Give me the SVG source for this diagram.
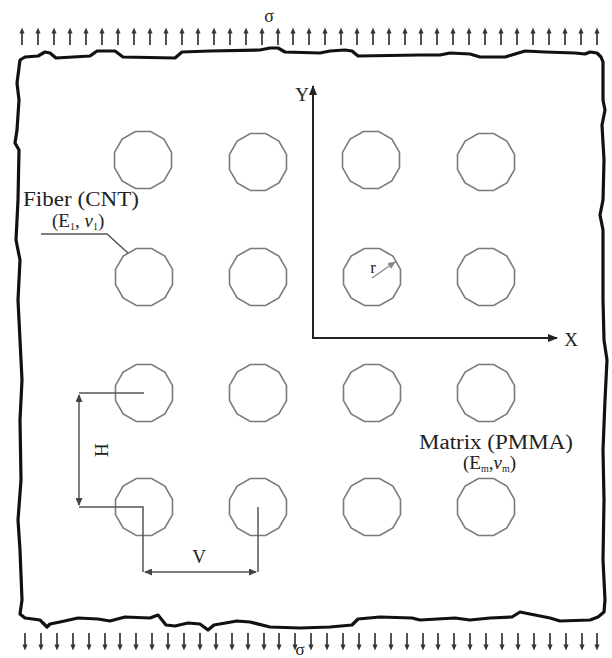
<svg xmlns="http://www.w3.org/2000/svg" xmlns:xlink="http://www.w3.org/1999/xlink" width="612" height="658" viewBox="0 0 612 658">
<style>
.t{font-family:"Liberation Serif","Times New Roman",serif;fill:#222}
.fib{fill:none;stroke:#7a7a7a;stroke-width:1.6}
.dim{fill:none;stroke:#555;stroke-width:1.5}
.ax{fill:none;stroke:#222;stroke-width:2}
.st{stroke:#333;stroke-width:1.7;fill:#333}
</style>
<defs>
<polygon id="dodec" points="28.49,7.63 20.86,20.86 7.63,28.49 -7.63,28.49 -20.86,20.86 -28.49,7.63 -28.49,-7.63 -20.86,-20.86 -7.63,-28.49 7.63,-28.49 20.86,-20.86 28.49,-7.63"/>
<g id="up" class="st"><line x1="0" y1="45" x2="0" y2="32"/><path d="M-2.6,33.5 L0,27.5 L2.6,33.5 Z" stroke="none"/></g>
<g id="dn" class="st"><line x1="0" y1="633" x2="0" y2="645"/><path d="M-2.6,644.5 L0,650.5 L2.6,644.5 Z" stroke="none"/></g>
<marker id="ab" markerWidth="10" markerHeight="8" refX="9" refY="4" orient="auto" markerUnits="userSpaceOnUse"><path d="M0,0 L10,4 L0,8 Z" fill="#222"/></marker>
<marker id="ag" markerWidth="8" markerHeight="7" refX="7" refY="3.5" orient="auto-start-reverse" markerUnits="userSpaceOnUse"><path d="M0,0 L8,3.5 L0,7 Z" fill="#444"/></marker>
<marker id="ar" markerWidth="8" markerHeight="7" refX="7" refY="3.5" orient="auto" markerUnits="userSpaceOnUse"><path d="M0,0 L8,3.5 L0,7 Z" fill="#888"/></marker>
</defs>
<rect width="612" height="658" fill="#fff"/>

<g id="stress-top">
<use xlink:href="#up" x="22"/><use xlink:href="#up" x="38"/><use xlink:href="#up" x="54"/><use xlink:href="#up" x="70"/><use xlink:href="#up" x="86"/><use xlink:href="#up" x="102"/><use xlink:href="#up" x="118"/><use xlink:href="#up" x="134"/><use xlink:href="#up" x="150"/><use xlink:href="#up" x="166"/><use xlink:href="#up" x="182"/><use xlink:href="#up" x="198"/><use xlink:href="#up" x="214"/><use xlink:href="#up" x="230"/><use xlink:href="#up" x="246"/><use xlink:href="#up" x="262"/><use xlink:href="#up" x="278"/><use xlink:href="#up" x="293"/><use xlink:href="#up" x="309"/><use xlink:href="#up" x="325"/><use xlink:href="#up" x="341"/><use xlink:href="#up" x="357"/><use xlink:href="#up" x="373"/><use xlink:href="#up" x="389"/><use xlink:href="#up" x="405"/><use xlink:href="#up" x="421"/><use xlink:href="#up" x="437"/><use xlink:href="#up" x="453"/><use xlink:href="#up" x="469"/><use xlink:href="#up" x="485"/><use xlink:href="#up" x="501"/><use xlink:href="#up" x="517"/><use xlink:href="#up" x="533"/><use xlink:href="#up" x="549"/><use xlink:href="#up" x="565"/><use xlink:href="#up" x="581"/><use xlink:href="#up" x="597"/>
<text class="t" x="269" y="22" font-size="18" text-anchor="middle">σ</text>
</g>

<g id="stress-bottom">
<use xlink:href="#dn" x="25"/><use xlink:href="#dn" x="41"/><use xlink:href="#dn" x="57"/><use xlink:href="#dn" x="73"/><use xlink:href="#dn" x="89"/><use xlink:href="#dn" x="105"/><use xlink:href="#dn" x="120"/><use xlink:href="#dn" x="136"/><use xlink:href="#dn" x="152"/><use xlink:href="#dn" x="168"/><use xlink:href="#dn" x="184"/><use xlink:href="#dn" x="200"/><use xlink:href="#dn" x="216"/><use xlink:href="#dn" x="232"/><use xlink:href="#dn" x="248"/><use xlink:href="#dn" x="264"/><use xlink:href="#dn" x="279"/><use xlink:href="#dn" x="295"/><use xlink:href="#dn" x="311"/><use xlink:href="#dn" x="327"/><use xlink:href="#dn" x="343"/><use xlink:href="#dn" x="359"/><use xlink:href="#dn" x="375"/><use xlink:href="#dn" x="391"/><use xlink:href="#dn" x="407"/><use xlink:href="#dn" x="423"/><use xlink:href="#dn" x="438"/><use xlink:href="#dn" x="454"/><use xlink:href="#dn" x="470"/><use xlink:href="#dn" x="486"/><use xlink:href="#dn" x="502"/><use xlink:href="#dn" x="518"/><use xlink:href="#dn" x="534"/><use xlink:href="#dn" x="550"/><use xlink:href="#dn" x="566"/><use xlink:href="#dn" x="582"/><use xlink:href="#dn" x="597"/>
<text class="t" x="300" y="655" font-size="17" text-anchor="middle">σ</text>
</g>

<g id="matrix-border">
<path fill="none" stroke="#111" stroke-width="3.2" stroke-linejoin="round" d="M20,60 L25,57 L38,56 L45,52 L50,53 L56,58 L90,56 L97,51 L115,51 L123,57 L175,58 L182,52 L210,51 L260,50 L270,48 L278,48 L285,52 L320,53 L330,51 L345,50 L352,51 L358,56 L420,55 L440,55 L450,53 L470,54 L480,57 L505,57 L515,54 L525,51 L545,52 L575,53 L585,54 L590,52 L597,53 L601,57 L603,62 L603,100 L605,110 L602,125 L604,160 L603,200 L600,215 L603,230 L603,300 L604,340 L607,360 L605,400 L603,450 L604,500 L603,560 L605,600 L604,612 L598,617 L590,620 L560,621 L550,618 L530,614 L520,612 L512,617 L490,618 L470,620 L455,618 L420,620 L412,618 L380,617 L358,619 L352,625 L330,627 L300,628 L270,627 L250,622 L237,621 L214,625 L208,630 L200,624 L188,623 L175,626 L166,625 L158,615 L150,618 L125,617 L110,621 L98,619 L78,618 L60,622 L50,624 L47,627 L40,620 L25,618 L20,614 L22,600 L20,550 L18,520 L21,480 L20,420 L22,380 L20,340 L18,300 L20,260 L16,240 L18,200 L19,150 L15,143 L17,130 L19,100 L17,83 L20,60 Z"/>
</g>

<g id="fiber-r1c1"><use xlink:href="#dodec" class="fib" x="143" y="160"/></g>
<g id="fiber-r1c2"><use xlink:href="#dodec" class="fib" x="258" y="162"/></g>
<g id="fiber-r1c3"><use xlink:href="#dodec" class="fib" x="371" y="160"/></g>
<g id="fiber-r1c4"><use xlink:href="#dodec" class="fib" x="486" y="162"/></g>
<g id="fiber-r2c1"><use xlink:href="#dodec" class="fib" x="144" y="277"/></g>
<g id="fiber-r2c2"><use xlink:href="#dodec" class="fib" x="258" y="277"/></g>
<g id="fiber-r2c3"><use xlink:href="#dodec" class="fib" x="372" y="277"/></g>
<g id="fiber-r2c4"><use xlink:href="#dodec" class="fib" x="486" y="277"/></g>
<g id="fiber-r3c1"><use xlink:href="#dodec" class="fib" x="144" y="393"/></g>
<g id="fiber-r3c2"><use xlink:href="#dodec" class="fib" x="258" y="393"/></g>
<g id="fiber-r3c3"><use xlink:href="#dodec" class="fib" x="372" y="393"/></g>
<g id="fiber-r3c4"><use xlink:href="#dodec" class="fib" x="486" y="393"/></g>
<g id="fiber-r4c1"><use xlink:href="#dodec" class="fib" x="144" y="507"/></g>
<g id="fiber-r4c2"><use xlink:href="#dodec" class="fib" x="258" y="507"/></g>
<g id="fiber-r4c3"><use xlink:href="#dodec" class="fib" x="372" y="507"/></g>
<g id="fiber-r4c4"><use xlink:href="#dodec" class="fib" x="486" y="507"/></g>

<g id="label-fiber">
<text class="t" x="23" y="206" font-size="20" textLength="116" lengthAdjust="spacingAndGlyphs">Fiber (CNT)</text>
<text class="t" x="52" y="227" font-size="19">(E<tspan font-size="10" dy="3">1</tspan><tspan dy="-3">, </tspan><tspan font-style="italic">v</tspan><tspan font-size="10" dy="3">1</tspan><tspan dy="-3">)</tspan></text>
</g>

<g id="label-matrix">
<text class="t" x="419" y="449" font-size="20" textLength="154" lengthAdjust="spacingAndGlyphs">Matrix (PMMA)</text>
<text class="t" x="463" y="469" font-size="19">(E<tspan font-size="10" dy="3">m</tspan><tspan dy="-3">,</tspan><tspan font-style="italic">v</tspan><tspan font-size="10" dy="3">m</tspan><tspan dy="-3">)</tspan></text>
</g>

<g id="axes">
<line class="ax" x1="313" y1="338" x2="313" y2="86" marker-end="url(#ab)"/>
<line class="ax" x1="312" y1="338" x2="557" y2="338" marker-end="url(#ab)"/>
<text class="t" x="302" y="101" font-size="19" text-anchor="middle">Y</text>
<text class="t" x="571" y="346" font-size="19" text-anchor="middle">X</text>
</g>

<g id="connectors">
<polyline class="dim" points="41,234 107,234 128,253"/>
<line x1="372" y1="278" x2="395" y2="262" stroke="#888" stroke-width="1.5" marker-end="url(#ar)"/>
<text class="t" x="373" y="273" font-size="17" text-anchor="middle">r</text>
<line class="dim" x1="79" y1="393" x2="144" y2="393"/>
<polyline class="dim" points="79,507 143,507 143,572"/>
<polyline class="dim" points="258,507 258,572"/>
<line class="dim" x1="79" y1="395" x2="79" y2="505" marker-start="url(#ag)" marker-end="url(#ag)"/>
<line class="dim" x1="145" y1="572" x2="256" y2="572" marker-start="url(#ag)" marker-end="url(#ag)"/>
<text class="t" x="0" y="0" font-size="19" text-anchor="middle" transform="translate(95,450) rotate(90)">H</text>
<text class="t" x="199" y="563" font-size="19" text-anchor="middle">V</text>
</g>
</svg>
